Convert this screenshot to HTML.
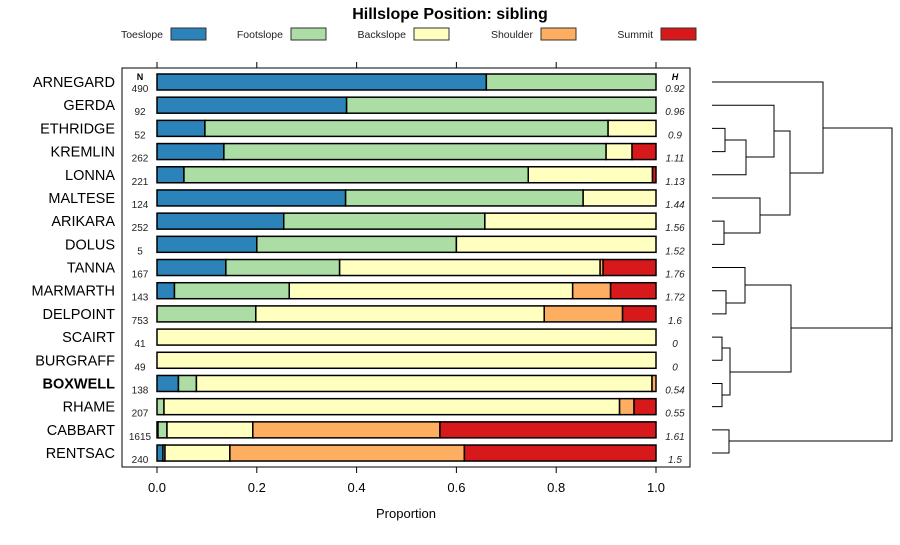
<!DOCTYPE html>
<html><head><meta charset="utf-8"><style>
body{margin:0;background:#fff;}
svg{font-family:"Liberation Sans",sans-serif;}
</style></head><body>
<svg id="chart" width="900" height="540" xmlns="http://www.w3.org/2000/svg">
<text x="450" y="19" text-anchor="middle" font-size="16" font-weight="bold">Hillslope Position: sibling</text>
<g id="legend"></g>
<rect x="122" y="68" width="568" height="399" fill="none" stroke="#000" stroke-width="1"/>
<g id="axes"></g>
<g id="bars"></g>
<g id="dend" stroke="#000" stroke-width="1" fill="none"></g>
<text x="406" y="518" text-anchor="middle" font-size="13">Proportion</text>
<text x="140" y="80" text-anchor="middle" font-size="9" font-weight="bold">N</text>
<text x="675" y="80" text-anchor="middle" font-size="9" font-weight="bold" font-style="italic">H</text>
</svg>
<script>
const series = ["Toeslope","Footslope","Backslope","Shoulder","Summit"];
const colors = ["#2b83ba","#abdda4","#ffffbf","#fdae61","#d7191c"];
const soils = ["ARNEGARD","GERDA","ETHRIDGE","KREMLIN","LONNA","MALTESE","ARIKARA","DOLUS","TANNA","MARMARTH","DELPOINT","SCAIRT","BURGRAFF","BOXWELL","RHAME","CABBART","RENTSAC"];
const nVals = [490,92,52,262,221,124,252,5,167,143,753,41,49,138,207,1615,240];
const hVals = ["0.92","0.96","0.9","1.11","1.13","1.44","1.56","1.52","1.76","1.72","1.6","0","0","0.54","0.55","1.61","1.5"];
const toeslope  = [0.66,0.38,0.096,0.134,0.054,0.378,0.254,0.2,0.138,0.035,0,0,0,0.043,0,0.002,0.012];
const footslope = [0.34,0.62,0.808,0.766,0.69,0.476,0.403,0.4,0.228,0.23,0.198,0,0,0.036,0.014,0.018,0.004];
const backslope = [0,0,0.096,0.052,0.249,0.146,0.343,0.4,0.522,0.568,0.578,1,1,0.913,0.913,0.172,0.13];
const shoulder  = [0,0,0,0,0,0,0,0,0.006,0.076,0.157,0,0,0.008,0.029,0.375,0.47];
const summit    = [0,0,0,0.048,0.007,0,0,0,0.106,0.091,0.067,0,0,0,0.044,0.433,0.384];
const xTicks = [0,0.2,0.4,0.6,0.8,1.0];
const xTickLabels = ["0.0","0.2","0.4","0.6","0.8","1.0"];

const NS="http://www.w3.org/2000/svg";
const X0=157,X1=656,Y0=82,DY=23.19;
const xs=v=>X0+v*(X1-X0);
const ys=i=>Y0+i*DY;
function mk(tag,attrs,parent,text){const e=document.createElementNS(NS,tag);for(const k in attrs)e.setAttribute(k,attrs[k]);if(text!==undefined)e.textContent=text;parent.appendChild(e);return e;}

const lg=document.getElementById('legend');
const lx=[165,285,408,535,655];
series.forEach((s,i)=>{
  const t=mk('text',{x:lx[i]-2,y:38,'text-anchor':'end','font-size':'10.5',fill:'#222'},lg,s);
  
  
  const r=mk('rect',{x:lx[i]+6,y:28,width:35,height:12,fill:colors[i],stroke:'#333','stroke-width':1},lg);
  
  
});

const ax=document.getElementById('axes');
xTicks.forEach((v,i)=>{
  const x=xs(v);
  const t1=mk('line',{x1:x,x2:x,y1:62,y2:68,stroke:'#000'},ax);
  
  
  const t2=mk('line',{x1:x,x2:x,y1:467,y2:473,stroke:'#000'},ax);
  
  
  const l=mk('text',{x:x,y:492,'text-anchor':'middle','font-size':'13'},ax,xTickLabels[i]);
  
  
});

const bg=document.getElementById('bars');
const vals=[toeslope,footslope,backslope,shoulder,summit];
soils.forEach((s,i)=>{
  const y=ys(i);
  const lab=mk('text',{x:115,y:y+5,'text-anchor':'end','font-size':'14.5','font-weight':s==='BOXWELL'?'bold':'normal'},bg,s);
  
  
  const n=mk('text',{x:140,y:y+10,'text-anchor':'middle','font-size':'10',fill:'#222'},bg,String(nVals[i]));
  
  
  const h=mk('text',{x:675,y:y+10,'text-anchor':'middle','font-size':'10','font-style':'italic',fill:'#222'},bg,hVals[i]);
  
  
  let c=0;
  vals.forEach((arr,k)=>{
    const v=arr[i]; if(v<=0) return;
    const r=mk('rect',{x:xs(c),y:y-8,width:xs(c+v)-xs(c),height:16,fill:colors[k],stroke:'#000','stroke-width':1.5},bg);
    
    
    c+=v;
  });
});

const dg=document.getElementById('dend');
const L=712;
const segs=[
 [725,ys(2),ys(3),L,L],
 [746,140,ys(4),725,L],
 [774,ys(1),157,L,746],
 [724,ys(6),ys(7),L,L],
 [760,ys(5),233,L,724],
 [790,131,215,774,760],
 [823,ys(0),173,L,790],
 [726,ys(9),ys(10),L,L],
 [745,ys(8),303,L,726],
 [722,ys(11),ys(12),L,L],
 [722,ys(13),ys(14),L,L],
 [730,348,395,722,722],
 [791,285,372,745,730],
 [729,ys(15),ys(16),L,L],
 [892,128,441,823,729]
];
segs.forEach(s=>{
  const p=mk('path',{d:`M${s[3]},${s[1]}H${s[0]}V${s[2]}H${s[4]}`},dg);
  
  
});
const m=mk('path',{d:`M791,328H892`},dg);


</script>
</body></html>
